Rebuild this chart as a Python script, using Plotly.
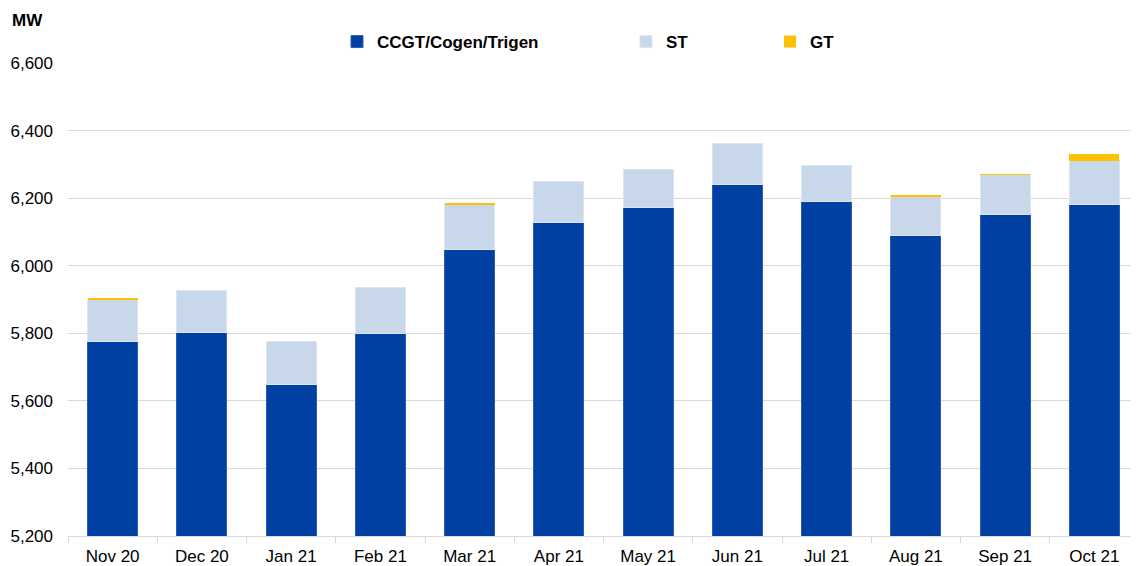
import plotly.graph_objects as go

months = ["Nov 20", "Dec 20", "Jan 21", "Feb 21", "Mar 21", "Apr 21",
          "May 21", "Jun 21", "Jul 21", "Aug 21", "Sep 21", "Oct 21"]
ccgt = [5775, 5802, 5649, 5800, 6047, 6129, 6172, 6239, 6189, 6089, 6151, 6180]
st = [126, 126, 128, 136, 135, 121, 112, 124, 107, 117, 118, 131]
gt = [1, 0, 0, 0, 2, 0, 0, 0, 0, 2, 1, 20]

FONT = "Liberation Sans, Arial, sans-serif"
FS = 17

fig = go.Figure()
fig.add_bar(x=months, y=ccgt, name="<b>CCGT/Cogen/Trigen</b>", marker_color="#0040A3",
            marker_line=dict(color="#2a5cb3", width=1), legend="legend2", showlegend=True)
fig.add_bar(x=months, y=st, name="<b>ST</b>", marker_color="#C8D7EA",
            marker_line=dict(color="#dce6f2", width=1), legend="legend3", showlegend=True)
fig.add_bar(x=months, y=gt, name="<b>GT</b>", marker_color="#FFC000",
            marker_line=dict(color="#FFC000", width=0), legend="legend4", showlegend=True)

PW = 1131 - 60 - 0
PH = 558 - 55 - 30

def legx(px):
    return (px - 68) / PW

leg_common = dict(orientation="h", yanchor="middle", y=1.0 + 21 / PH, xanchor="left",
                  font=dict(family=FONT, size=FS, color="#000000"),
                  bgcolor="rgba(0,0,0,0)", itemwidth=30)

fig.update_layout(
    width=1131, height=558,
    barmode="stack",
    bargap=0.44,
    showlegend=True,
    plot_bgcolor="white",
    paper_bgcolor="white",
    margin=dict(l=60, r=0, t=55, b=30),
    font=dict(family=FONT, size=FS, color="#000000"),
    legend2=dict(leg_common, x=legx(337)),
    legend3=dict(leg_common, x=legx(626)),
    legend4=dict(leg_common, x=legx(770)),
    xaxis=dict(showgrid=False, showline=True, linecolor="#D9D9D9", linewidth=1,
               ticks="outside", tickson="boundaries", ticklen=6, tickcolor="#D9D9D9",
               ticklabelstandoff=5,
               tickfont=dict(family=FONT, size=FS, color="#000000")),
    yaxis=dict(range=[5200, 6600], dtick=200, tickformat=",", showgrid=True,
               gridcolor="#D9D9D9", gridwidth=1, zeroline=False,
               ticklabelstandoff=14,
               tickfont=dict(family=FONT, size=FS, color="#000000")),
    annotations=[dict(text="<b>MW</b>", xref="paper", yref="paper", x=-58 / PW, y=1.0 + 43 / PH,
                      xanchor="left", yanchor="middle", showarrow=False,
                      font=dict(family=FONT, size=FS, color="#000000"))],
)

fig.write_html("out.html")
